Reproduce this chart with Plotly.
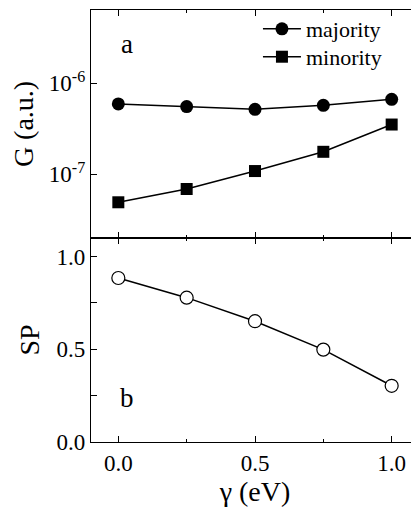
import plotly.graph_objects as go
from plotly.subplots import make_subplots

gamma = [0.0, 0.25, 0.5, 0.75, 1.0]
g_majority = [5.94e-7, 5.56e-7, 5.19e-7, 5.74e-7, 6.68e-7]
g_minority = [4.93e-8, 6.9e-8, 1.087e-7, 1.77e-7, 3.53e-7]
sp = [0.884, 0.778, 0.651, 0.498, 0.303]
g_ticks = [1e-7, 1e-6]
g_ticktext = ["10<sup>-7</sup>", "10<sup>-6</sup>"]

FONT = "Liberation Serif, 'Times New Roman', Times, serif"
LW = 1.3

fig = make_subplots(rows=2, cols=1, shared_xaxes=False, vertical_spacing=0,
                    row_heights=[0.5276, 0.4724])

fig.add_trace(go.Scatter(x=gamma, y=g_majority, mode="lines+markers", name="majority",
                         legend="legend",
                         line=dict(color="black", width=1.5),
                         marker=dict(symbol="circle", size=13, color="black")), row=1, col=1)
fig.add_trace(go.Scatter(x=gamma, y=g_minority, mode="lines+markers", name="minority",
                         legend="legend2",
                         line=dict(color="black", width=1.5),
                         marker=dict(symbol="square", size=12, color="black")), row=1, col=1)
fig.add_trace(go.Scatter(x=gamma, y=sp, mode="lines+markers", name="SP", showlegend=False,
                         line=dict(color="black", width=1.5),
                         marker=dict(symbol="circle", size=13, color="white",
                                     line=dict(color="black", width=1.2))), row=2, col=1)

xcommon = dict(range=[-0.1, 1.1], tick0=0, dtick=0.5, ticks="inside", ticklen=6, tickwidth=1.2,
               tickcolor="black", showline=True, linecolor="black", linewidth=LW, mirror="ticks",
               showgrid=False, zeroline=False,
               minor=dict(dtick=0.25, ticks="inside", ticklen=3, tickcolor="black", tickwidth=1.2))
fig.update_xaxes(**xcommon, showticklabels=False, row=1, col=1)
fig.update_xaxes(**xcommon, tickformat=".1f", row=2, col=1,
                 tickfont=dict(family=FONT, size=23, color="black"),
                 title=dict(text="γ (eV)", font=dict(family=FONT, size=28, color="black"), standoff=2))

fig.update_yaxes(type="log", range=[-7.699, -5.193], tickvals=g_ticks, ticktext=g_ticktext,
                 ticks="inside", ticklen=6, tickwidth=1.2, tickcolor="black",
                 showline=True, linecolor="black", linewidth=LW, mirror="ticks",
                 showgrid=False, zeroline=False,
                 tickfont=dict(family=FONT, size=23, color="black"),
                 title=dict(text="G (a.u.)", font=dict(family=FONT, size=28, color="black"), standoff=8),
                 row=1, col=1)
fig.update_yaxes(range=[0, 1.1], tick0=0, dtick=0.5, tickformat=".1f",
                 ticks="inside", ticklen=6, tickwidth=1.2, tickcolor="black",
                 showline=True, linecolor="black", linewidth=LW, mirror="ticks",
                 showgrid=False, zeroline=False,
                 minor=dict(dtick=0.25, ticks="inside", ticklen=6, tickcolor="black", tickwidth=1.2),
                 tickfont=dict(family=FONT, size=23, color="black"),
                 title=dict(text="SP", font=dict(family=FONT, size=28, color="black"), standoff=8),
                 row=2, col=1)

fig.add_annotation(text="a", x=0.033, y=-5.565, xref="x", yref="y", showarrow=False,
                   font=dict(family=FONT, size=27, color="black"))
fig.add_annotation(text="b", x=0.033, y=0.235, xref="x2", yref="y2", showarrow=False,
                   font=dict(family=FONT, size=27, color="black"))

legend_common = dict(xanchor="left", yanchor="top", bgcolor="rgba(0,0,0,0)",
                     font=dict(family=FONT, size=22, color="black"), itemwidth=38)
fig.update_layout(width=411, height=505, margin=dict(l=83, r=0, t=0, b=71),
                  plot_bgcolor="white", paper_bgcolor="white",
                  font=dict(family=FONT, color="black"),
                  legend=dict(x=0.509, y=1.0046, **legend_common),
                  legend2=dict(x=0.509, y=0.940, **legend_common))

fig.write_html("out.html")
